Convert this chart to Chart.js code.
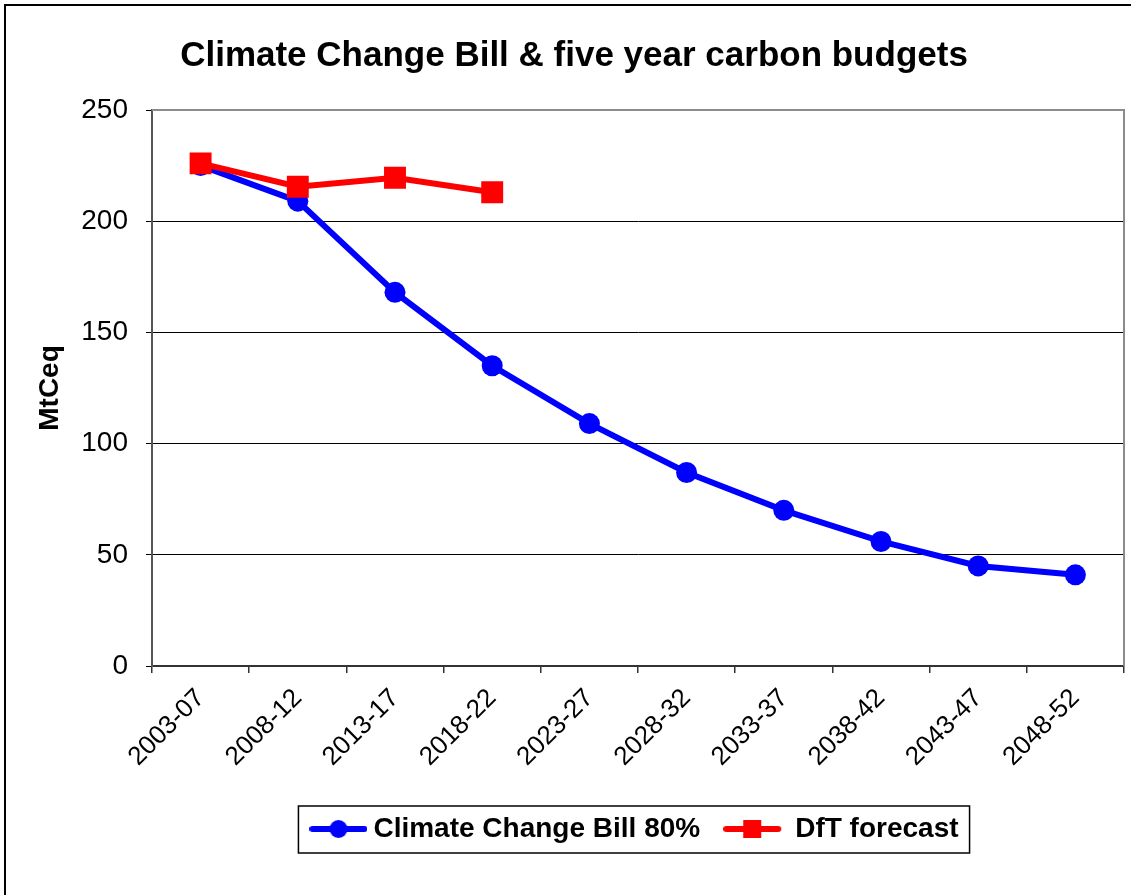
<!DOCTYPE html>
<html lang="en">

<head>
    <meta charset="UTF-8">
    <title>Climate Change Bill & five year carbon budgets</title>
    <style>
        html, body { margin: 0; padding: 0; background: #fff; }
        #wrap { width: 1131px; height: 895px; }
    </style>
</head>

<body>
    <div id="wrap">
        <canvas id="myChart" width="1131" height="895"></canvas>
    </div>

    <script src="https://cdn.jsdelivr.net/npm/chart.js"></script>
    <script>
        var periodos = ['2003-07', '2008-12', '2013-17', '2018-22', '2023-27',
            '2028-32', '2033-37', '2038-42', '2043-47', '2048-52'];
        var orcamentoCCB = [225, 209, 168, 135, 109, 87, 70, 56, 45, 41];
        var previsaoDfT = [226, 215.5, 219.5, 213, null, null, null, null, null, null];
        var nomesSeries = ['Climate Change Bill 80%', 'DfT forecast'];
        var coresSeries = ['#0000ff', '#ff0000'];

        var fonte = "'Liberation Sans', Arial, sans-serif";

        // line + marker drawn on a small canvas, used as legend symbol.
        // largura: canvas width, the symbol itself is 58px wide starting at x=0
        function simboloLegenda(cor, tipo, largura) {
            var c = document.createElement('canvas');
            c.width = largura;
            c.height = 24;
            var g = c.getContext('2d');
            g.strokeStyle = cor;
            g.lineWidth = 6;
            g.lineCap = 'round';
            g.beginPath();
            g.moveTo(3, 12);
            g.lineTo(55, 12);
            g.stroke();
            g.fillStyle = cor;
            if (tipo == 'circle') {
                g.beginPath();
                g.arc(29, 12, 9, 0, Math.PI * 2);
                g.fill();
            } else {
                g.fillRect(20, 3, 18, 18);
            }
            return c;
        }

        var simbolos = [
            simboloLegenda(coresSeries[0], 'circle', 58),
            simboloLegenda(coresSeries[1], 'rect', 74)
        ];

        var molduras = {
            id: 'molduras',
            afterDraw: function (chart) {
                var ctx = chart.ctx;
                var a = chart.chartArea;
                ctx.save();
                // outer frame
                ctx.strokeStyle = '#000';
                ctx.lineWidth = 2;
                ctx.beginPath();
                ctx.moveTo(5, 895);
                ctx.lineTo(5, 5);
                ctx.lineTo(1131, 5);
                ctx.stroke();
                // plot area top / right edge
                ctx.strokeStyle = '#8c8c8c';
                ctx.lineWidth = 2;
                ctx.beginPath();
                ctx.moveTo(a.left, a.top);
                ctx.lineTo(a.right, a.top);
                ctx.lineTo(a.right, a.bottom);
                ctx.stroke();
                // legend box
                var hb = chart.legend.legendHitBoxes;
                if (hb && hb.length) {
                    var ult = hb[hb.length - 1];
                    var meio = hb[0].top + hb[0].height / 2;
                    var esq = hb[0].left - 19;
                    ctx.strokeStyle = '#000';
                    ctx.lineWidth = 1.5;
                    ctx.strokeRect(esq, meio - 23, ult.left + ult.width + 11 - esq, 47);
                }
                ctx.restore();
            }
        };

        var ctx = document.getElementById('myChart').getContext('2d');

        new Chart(ctx, {
            type: 'line',
            data: {
                labels: periodos,
                datasets: [{
                    label: nomesSeries[0],
                    data: orcamentoCCB,
                    borderColor: coresSeries[0],
                    backgroundColor: coresSeries[0],
                    borderWidth: 6,
                    pointStyle: 'circle',
                    pointRadius: 10.5,
                    pointBorderWidth: 0,
                    order: 1
                }, {
                    label: nomesSeries[1],
                    data: previsaoDfT,
                    borderColor: coresSeries[1],
                    backgroundColor: coresSeries[1],
                    borderWidth: 6,
                    pointStyle: 'rect',
                    pointRadius: 15.5,
                    pointBorderWidth: 0,
                    spanGaps: false,
                    order: 0
                }]
            },
            options: {
                responsive: false,
                animation: false,
                layout: {
                    autoPadding: false,
                    padding: { top: 10, left: 24, right: 7, bottom: 42 }
                },
                scales: {
                    x: {
                        offset: true,
                        grid: {
                            offset: true,
                            drawOnChartArea: false,
                            drawTicks: true,
                            tickLength: 7,
                            color: '#333',
                            lineWidth: 1.5
                        },
                        border: { color: '#333', width: 2 },
                        ticks: {
                            color: '#000',
                            font: { family: fonte, size: 26 },
                            minRotation: 45,
                            maxRotation: 45,
                            padding: 10,
                            autoSkip: false
                        },
                        afterFit: function (scale) {
                            scale.height = 110;
                            scale.paddingRight = 0;
                        }
                    },
                    y: {
                        min: 0,
                        max: 250,
                        ticks: {
                            stepSize: 50,
                            color: '#000',
                            font: { family: fonte, size: 28 },
                            padding: 18
                        },
                        grid: {
                            color: '#000',
                            lineWidth: 1,
                            tickLength: 6,
                            drawTicks: true
                        },
                        border: { color: '#555', width: 2 },
                        title: {
                            display: true,
                            text: 'MtCeq',
                            color: '#000',
                            font: { family: fonte, size: 28, weight: 'bold' },
                            padding: { top: 9, bottom: 0 }
                        },
                        afterFit: function (scale) {
                            scale.width = 128;
                        }
                    }
                },
                plugins: {
                    title: {
                        display: true,
                        text: 'Climate Change Bill & five year carbon budgets',
                        color: '#000',
                        font: { family: fonte, size: 35, weight: 'bold' },
                        padding: { top: 25, bottom: 33 }
                    },
                    legend: {
                        position: 'bottom',
                        fullSize: false,
                        labels: {
                            color: '#000',
                            font: { family: fonte, size: 28, weight: 'bold' },
                            usePointStyle: true,
                            pointStyleWidth: 42,
                            padding: 39,
                            generateLabels: function (chart) {
                                return nomesSeries.map(function (nome, i) {
                                    return {
                                        text: nome,
                                        pointStyle: simbolos[i],
                                        fillStyle: coresSeries[i],
                                        strokeStyle: coresSeries[i],
                                        lineWidth: 0,
                                        fontColor: '#000',
                                        hidden: false,
                                        datasetIndex: i
                                    };
                                });
                            }
                        }
                    },
                    tooltip: { enabled: false }
                }
            },
            plugins: [molduras]
        });
    </script>
</body>

</html>
